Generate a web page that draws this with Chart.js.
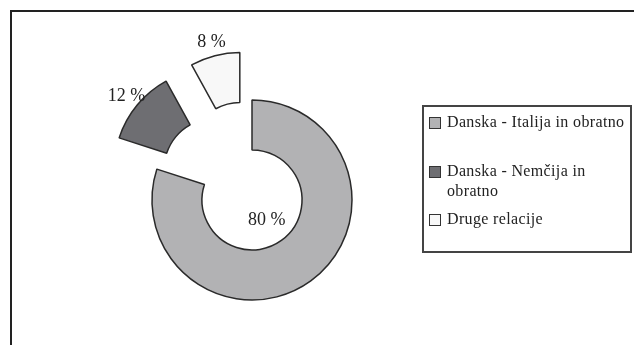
<!DOCTYPE html>
<html>
<head>
<meta charset="utf-8">
<title>Deleži relacij</title>
<script src="https://cdn.jsdelivr.net/npm/chart.js@4.4.1/dist/chart.umd.min.js"></script>
<style>
  html, body { margin:0; padding:0; background:#fff; }
  body { width:634px; height:345px; position:relative; overflow:hidden; font-family:"Liberation Serif", "DejaVu Serif", serif; }
  #frame { position:absolute; left:10px; top:10px; right:-4px; bottom:-4px; border-top:2px solid #222; border-left:2px solid #222; }
  #chart { position:absolute; left:0; top:0; }
  #legend { position:absolute; left:422px; top:105px; width:202px; height:139px; border:2px solid #444; padding:5px 0 0 4px; box-sizing:content-box; }
  #legend .item { display:flex; align-items:flex-start; height:48.5px; }
  #legend .sw { width:10px; height:10px; border:1px solid #333; margin:5px 6px 0 1px; flex:none; }
  #legend .txt { width:182px; font-size:16px; line-height:20px; letter-spacing:0.35px; color:#222; }
</style>
</head>
<body>
<div id="frame"></div>
<canvas id="chart" width="634" height="345"></canvas>
<div id="legend"></div>

<script>
/* data */
const LABELS = ["Danska - Italija in obratno", "Danska - Nemčija in obratno", "Druge relacije"];
const SHARES = [80, 12, 8];
const COLORS = ["#b2b2b4", "#6e6e72", "#f8f8f8"];
const EXPLODED = [false, true, true];

const EXPLODE_DIST = 49;   // px pulled out from the ring
const BORDER = "#2a2a2a";

function $(sel, root=document){ return root.querySelector(sel); }

function mountLegend(){
  const box = $("#legend");
  box.innerHTML = LABELS.map((l, i) => `
    <div class="item">
      <div class="sw" style="background:${COLORS[i]}"></div>
      <div class="txt">${l}</div>
    </div>`).join("");
}

// pulls the exploded slices out along their own mid angle
const explodePlugin = {
  id: "explode",
  afterDatasetUpdate(chart, args){
    args.meta.data.forEach((arc, i) => {
      if(!EXPLODED[i]) return;
      const mid = (arc.startAngle + arc.endAngle) / 2;
      arc.x += Math.cos(mid) * EXPLODE_DIST;
      arc.y += Math.sin(mid) * EXPLODE_DIST;
    });
  }
};

// "80 %" style labels: inside the hole for the main slice, outside for the rest
const labelPlugin = {
  id: "sliceLabels",
  afterDatasetsDraw(chart){
    const ctx = chart.ctx;
    const meta = chart.getDatasetMeta(0);
    ctx.save();
    ctx.font = '18px "Liberation Serif", serif';
    ctx.fillStyle = "#222";
    ctx.textAlign = "center";
    ctx.textBaseline = "middle";
    meta.data.forEach((arc, i) => {
      const mid = (arc.startAngle + arc.endAngle) / 2;
      const r = EXPLODED[i] ? arc.outerRadius + 14 : arc.innerRadius * 0.5;
      ctx.fillText(SHARES[i] + " %", arc.x + Math.cos(mid) * r, arc.y + Math.sin(mid) * r);
    });
    ctx.restore();
  }
};

function buildChart(){
  new Chart($("#chart"), {
    type: "doughnut",
    data: {
      labels: LABELS,
      datasets: [{
        data: SHARES,
        backgroundColor: COLORS,
        borderColor: BORDER,
        borderWidth: 1.5
      }]
    },
    options: {
      responsive: false,
      animation: false,
      radius: 100,
      cutout: "50%",
      layout: { padding: { left: 20, right: 150, top: 75, bottom: 20 } },
      plugins: {
        legend: { display: false },
        tooltip: { enabled: false }
      }
    },
    plugins: [explodePlugin, labelPlugin]
  });
}

mountLegend();
buildChart();
</script>
</body>
</html>
